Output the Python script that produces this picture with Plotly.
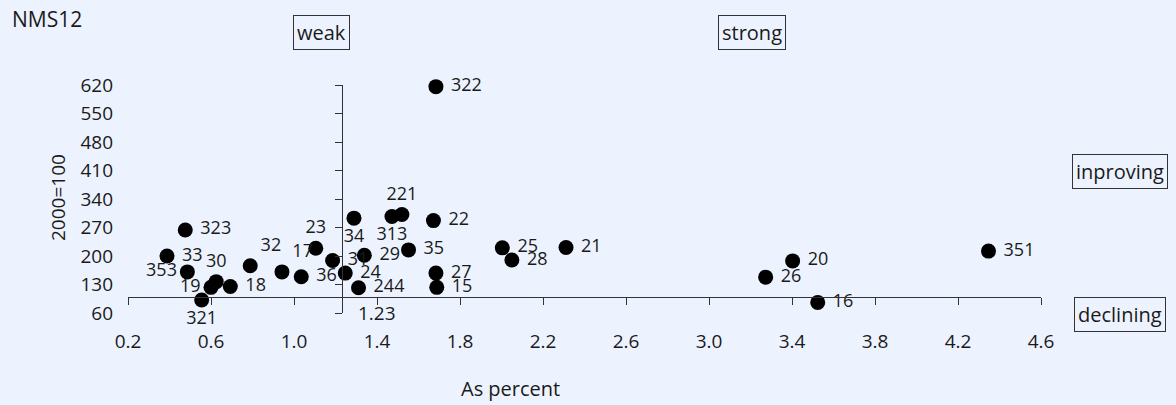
import plotly.graph_objects as go

# Daten
labels = ["323", "33", "353", "19", "30", "18", "321", "32", "17", "36",
          "23", "31", "24", "34", "29", "244", "313", "221", "35", "22",
          "27", "15", "322", "25", "28", "21", "26", "20", "16", "351"]
share = [0.476, 0.388, 0.486, 0.600, 0.625, 0.693, 0.555, 0.789, 0.942, 1.035,
         1.105, 1.186, 1.247, 1.289, 1.339, 1.311, 1.472, 1.520, 1.552, 1.672,
         1.684, 1.688, 1.684, 2.004, 2.050, 2.311, 3.273, 3.403, 3.524, 4.347]
index_2000 = [264, 200, 161, 123, 137, 125, 92, 176, 161, 149,
              219, 189, 158, 293, 202, 122, 297, 302, 215, 287,
              158, 123, 616, 220, 190, 221, 148, 188, 86, 212]

x_cross = 1.23   # vertikale Achse
y_cross = 100    # horizontale Achse (2000=100)
x_range = [0.2, 4.6]
y_range = [60, 620]

quadrants = ["weak", "strong", "inproving", "declining"]

COLORS = {
    "bg": "#EDF3FE",
    "text": "#1A1A1A",
    "line": "#333333",
    "dot": "#000000",
}
FONT = "Open Sans"

# Beschriftungsposition je Punkt
label_pos = {
    "353": "middle left", "19": "middle left",
    "30": "top center", "321": "bottom center", "32": "top right",
    "17": "top right", "23": "top center", "34": "bottom center",
    "313": "bottom center", "221": "top center",
}
positions = [label_pos.get(l, "middle right") for l in labels]
# kleiner Abstand zwischen Punkt und Beschriftung rechts
shown = ["\u00a0" + l if p == "middle right" else l for l, p in zip(labels, positions)]

fig = go.Figure()
fig.add_trace(go.Scatter(
    x=share, y=index_2000,
    mode="markers+text",
    text=shown,
    textposition=positions,
    textfont=dict(size=18, color=COLORS["text"], family=FONT),
    marker=dict(size=15, color=COLORS["dot"]),
    cliponaxis=False,
    showlegend=False,
    hovertemplate="%{text}<br>%{x:.2f}<br>%{y:.0f}<extra></extra>",
))
# Dummy-Trace, damit die Kreuzachsen gezeichnet werden
fig.add_trace(go.Scatter(x=[], y=[], xaxis="x2", yaxis="y2", showlegend=False))

W, H = 1176, 405
L, R, T, B = 128, 135, 85, 92
pw, ph = W - L - R, H - T - B


def px_x(p):
    return (p - L) / pw


def px_y(p):
    return (H - B - p) / ph


tick_font = dict(size=19, color=COLORS["text"], family=FONT)

fig.update_layout(
    width=W, height=H,
    margin=dict(l=L, r=R, t=T, b=B),
    paper_bgcolor=COLORS["bg"],
    plot_bgcolor=COLORS["bg"],
    font=dict(family=FONT, color=COLORS["text"], size=18),
    xaxis=dict(range=x_range, tick0=0.2, dtick=0.4, tickformat=".1f",
               showgrid=False, zeroline=False, showline=False, ticks="",
               ticklabelstandoff=15, tickfont=tick_font),
    yaxis=dict(range=y_range, tick0=60, dtick=70,
               showgrid=False, zeroline=False, showline=False, ticks="",
               ticklabelstandoff=14, tickfont=tick_font),
    xaxis2=dict(range=x_range, tick0=0.2, dtick=0.4, overlaying="x",
                anchor="free",
                position=(y_cross - y_range[0]) / (y_range[1] - y_range[0]),
                showgrid=False, zeroline=False, showline=True,
                linecolor=COLORS["line"], linewidth=1,
                ticks="outside", ticklen=7, tickcolor=COLORS["line"],
                showticklabels=False),
    yaxis2=dict(range=y_range, tick0=60, dtick=70, overlaying="y",
                anchor="free", side="left",
                position=(x_cross - x_range[0]) / (x_range[1] - x_range[0]),
                showgrid=False, zeroline=False, showline=True,
                linecolor=COLORS["line"], linewidth=1,
                ticks="outside", ticklen=7, tickcolor=COLORS["line"],
                showticklabels=False),
)

note = dict(xref="paper", yref="paper", xanchor="center", yanchor="middle",
            showarrow=False)
box = dict(bordercolor=COLORS["line"], borderwidth=1, borderpad=3,
           font=dict(size=20, color=COLORS["text"]), **note)
fig.add_annotation(text=quadrants[0], x=px_x(321.5), y=px_y(33), **box)
fig.add_annotation(text=quadrants[1], x=px_x(751.5), y=px_y(33), **box)
fig.add_annotation(text=quadrants[2], x=px_x(1119.5), y=px_y(171.5), **box)
fig.add_annotation(text=quadrants[3], x=px_x(1119.5), y=px_y(314.5), **box)

# Titel und Achsenbeschriftungen
fig.add_annotation(text="NMS12", x=px_x(10), y=px_y(19), xref="paper", yref="paper",
                   xanchor="left", yanchor="middle", showarrow=False,
                   font=dict(size=21))
fig.add_annotation(text="2000=100", x=px_x(58), y=px_y(198), textangle=-90,
                   font=dict(size=19), **note)
fig.add_annotation(text="As percent", x=px_x(510), y=px_y(388),
                   font=dict(size=20), **note)
fig.add_annotation(text=f"{x_cross:.2f}", x=1.4, y=px_y(313), xref="x", yref="paper",
                   xanchor="center", yanchor="middle", showarrow=False,
                   font=dict(size=19))

fig.write_html("out.html", config={"displayModeBar": False},
               post_script="document.body.style.margin='0px';")
